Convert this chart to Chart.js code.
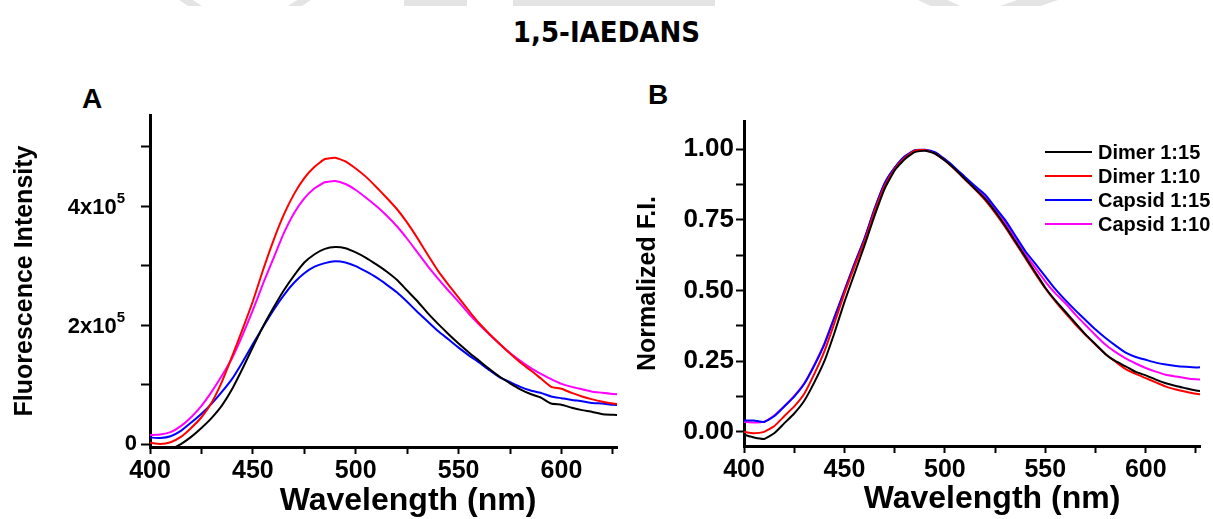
<!DOCTYPE html>
<html>
<head>
  <meta charset="UTF-8">
  <title>1,5-IAEDANS</title>
  <script src="https://cdn.jsdelivr.net/npm/chart.js@4.4.4/dist/chart.umd.min.js"></script>
  <style>
    body { margin: 0; background: #fff; }
    #wrap { position: relative; width: 1213px; height: 519px; overflow: hidden; }
    #wrap canvas { position: absolute; left: 0; top: 0; }

    /* faint grey strip along the top edge */
    .band { position: absolute; top: 0; height: 6px; background: #e4e4e4; }

    #title {
      position: absolute; left: 0; top: 15px; width: 1213px;
      text-align: center; line-height: 34px;
      font: bold 29px "DejaVu Sans Condensed", "Liberation Sans Narrow", sans-serif;
      font-stretch: condensed;
    }
    .panel {
      position: absolute; line-height: 28px;
      font: bold 28px "Liberation Sans", Arial, sans-serif;
    }
  </style>
</head>
<body>
<div id="wrap">
  <div class="band" style="left:179px;width:23px;clip-path:polygon(0 0,60% 0,100% 100%,40% 100%)"></div>
  <div class="band" style="left:288px;width:23px;clip-path:polygon(40% 0,100% 0,60% 100%,0 100%)"></div>
  <div class="band" style="left:404px;width:63px"></div>
  <div class="band" style="left:513px;width:202px"></div>
  <div class="band" style="left:918px;width:42px;clip-path:polygon(0 0,70% 0,100% 100%,30% 100%)"></div>
  <div class="band" style="left:1000px;width:58px;clip-path:polygon(30% 0,100% 0,70% 100%,0 100%)"></div>

  <div id="title">1,5-IAEDANS</div>
  <div class="panel" style="left:82px;top:83px">A</div>
  <div class="panel" style="left:648px;top:79px">B</div>

  <canvas id="chartA" width="1213" height="519"></canvas>
  <canvas id="chartB" width="1213" height="519"></canvas>
</div>

<script>
  // —— data ——————————————————————————————————————————————
  const wavelength = [
    400, 405, 410, 415, 420, 425, 430, 435, 440, 445,
    450, 455, 460, 465, 470, 475, 480, 485, 490, 495,
    500, 505, 510, 515, 520, 525, 530, 535, 540, 545,
    550, 555, 560, 565, 570, 575, 580, 585, 590, 595,
    600, 605, 610, 615, 620, 625, 630
  ];
  const seriesNames = ['Dimer 1:15', 'Dimer 1:10', 'Capsid 1:15', 'Capsid 1:10'];
  const seriesColors = ['#000000', '#ff0000', '#0000ff', '#ff00ff'];

  // panel A: raw intensity, in units of 10^5
  const expTicksA = [2, 4];
  const dimer15Raw = [
    -0.07, -0.09, -0.08, 0.00, 0.12, 0.27, 0.44, 0.65, 0.93, 1.27,
    1.63, 1.98, 2.29, 2.58, 2.83, 3.05, 3.19, 3.28, 3.31, 3.29,
    3.22, 3.13, 3.02, 2.90, 2.76, 2.58, 2.40, 2.20, 2.02, 1.85,
    1.69, 1.54, 1.40, 1.26, 1.13, 1.02, 0.92, 0.84, 0.78, 0.68,
    0.66, 0.61, 0.57, 0.54, 0.50, 0.49, 0.48
  ];
  const dimer10Raw = [
    0.02, 0.00, 0.03, 0.12, 0.27, 0.45, 0.70, 1.05, 1.48, 1.93,
    2.40, 2.93, 3.42, 3.85, 4.20, 4.47, 4.66, 4.79, 4.81, 4.75,
    4.63, 4.49, 4.32, 4.14, 3.95, 3.72, 3.46, 3.18, 2.91, 2.68,
    2.46, 2.24, 2.03, 1.85, 1.68, 1.52, 1.37, 1.24, 1.10, 0.96,
    0.93, 0.86, 0.80, 0.75, 0.71, 0.68, 0.66
  ];
  const capsid15Raw = [
    0.11, 0.10, 0.13, 0.22, 0.36, 0.51, 0.68, 0.88, 1.10, 1.38,
    1.68, 1.97, 2.25, 2.50, 2.71, 2.87, 2.98, 3.04, 3.07, 3.05,
    2.99, 2.90, 2.80, 2.68, 2.55, 2.39, 2.22, 2.06, 1.90, 1.76,
    1.62, 1.49, 1.37, 1.24, 1.12, 1.04, 0.96, 0.90, 0.86, 0.80,
    0.77, 0.74, 0.72, 0.69, 0.68, 0.66, 0.65
  ];
  const capsid10Raw = [
    0.15, 0.16, 0.20, 0.30, 0.45, 0.64, 0.88, 1.15, 1.45, 1.83,
    2.25, 2.70, 3.12, 3.54, 3.88, 4.13, 4.30, 4.40, 4.42, 4.37,
    4.27, 4.14, 4.00, 3.84, 3.66, 3.45, 3.22, 2.99, 2.78, 2.58,
    2.39, 2.19, 2.01, 1.84, 1.68, 1.53, 1.40, 1.28, 1.18, 1.09,
    1.01, 0.96, 0.92, 0.88, 0.86, 0.84, 0.83
  ];

  // panel B: normalized fluorescence
  const dimer15Norm = [
    -0.010, -0.020, -0.025, -0.005, 0.030, 0.065, 0.110, 0.175, 0.250, 0.350,
    0.460, 0.560, 0.660, 0.765, 0.860, 0.925, 0.965, 0.990, 0.995, 0.985,
    0.960, 0.930, 0.895, 0.860, 0.825, 0.780, 0.730, 0.675, 0.620, 0.565,
    0.510, 0.465, 0.425, 0.385, 0.345, 0.310, 0.275, 0.250, 0.232, 0.212,
    0.200, 0.185, 0.172, 0.162, 0.154, 0.146, 0.142
  ];
  const dimer10Norm = [
    0.000, -0.005, 0.000, 0.020, 0.055, 0.090, 0.135, 0.205, 0.285, 0.385,
    0.490, 0.585, 0.675, 0.780, 0.870, 0.930, 0.970, 0.995, 0.997, 0.985,
    0.960, 0.928, 0.893, 0.858, 0.820, 0.775, 0.725, 0.670, 0.615, 0.560,
    0.508, 0.462, 0.420, 0.380, 0.343, 0.308, 0.275, 0.248, 0.222, 0.205,
    0.190, 0.175, 0.160, 0.150, 0.142, 0.135, 0.130
  ];
  const capsid15Norm = [
    0.040, 0.040, 0.035, 0.055, 0.090, 0.125, 0.170, 0.235, 0.310, 0.405,
    0.500, 0.595, 0.685, 0.790, 0.880, 0.935, 0.975, 0.997, 0.998, 0.990,
    0.965, 0.935, 0.902, 0.870, 0.840, 0.795, 0.750, 0.695, 0.640, 0.595,
    0.550, 0.505, 0.466, 0.430, 0.396, 0.362, 0.332, 0.305, 0.280, 0.265,
    0.255, 0.245, 0.238, 0.233, 0.230, 0.228, 0.230
  ];
  const capsid10Norm = [
    0.035, 0.033, 0.036, 0.058, 0.090, 0.127, 0.172, 0.237, 0.312, 0.405,
    0.500, 0.593, 0.683, 0.787, 0.878, 0.933, 0.973, 0.995, 0.997, 0.988,
    0.962, 0.932, 0.898, 0.865, 0.833, 0.790, 0.742, 0.685, 0.630, 0.580,
    0.532, 0.490, 0.455, 0.415, 0.378, 0.342, 0.308, 0.282, 0.260, 0.242,
    0.226, 0.213, 0.202, 0.196, 0.190, 0.186, 0.184
  ];

  // —— helpers ——————————————————————————————————————————
  const FONT = '"Liberation Sans", Arial, sans-serif';

  function makeDatasets(seriesList) {
    return seriesList.map((vals, i) => ({
      label: seriesNames[i],
      data: wavelength.map((w, j) => ({ x: w, y: vals[j] })),
      borderColor: seriesColors[i],
      borderWidth: 2,
      pointRadius: 0,
      tension: 0.15,
      fill: false
    }));
  }

  function axisGrid(len) {
    return {
      display: true,
      drawOnChartArea: false,
      drawTicks: true,
      tickLength: len,
      tickWidth: 2,
      tickColor: '#000'
    };
  }

  function xScale(height) {
    return {
      type: 'linear',
      position: 'bottom',
      min: 400,
      max: 627,
      grid: axisGrid(7),
      border: { display: true, width: 3, color: '#000' },
      ticks: {
        stepSize: 25,
        includeBounds: false,
        autoSkip: false,
        maxRotation: 0,
        padding: 2,
        color: '#000',
        font: { family: FONT, size: 25, weight: 'bold' },
        callback: v => (v % 50 === 0 ? String(v) : '')
      },
      afterFit: s => { s.height = height; }
    };
  }

  // x-axis title, "n x10^5" tick labels and optional in-plot legend
  const panelText = {
    id: 'panelText',
    afterDraw(chart, args, opts) {
      const ctx = chart.ctx;
      ctx.save();
      ctx.fillStyle = '#000';
      ctx.textAlign = 'center';
      ctx.textBaseline = 'middle';
      ctx.font = 'bold 32px ' + FONT;
      ctx.fillText(opts.xTitle, opts.titleX, opts.titleY);

      if (opts.expTicks) {
        const yScale = chart.scales.y;
        const right = yScale.right - 25;
        ctx.textAlign = 'right';
        ctx.textBaseline = 'alphabetic';
        opts.expTicks.forEach(v => {
          const y = yScale.getPixelForValue(v);
          ctx.font = 'bold 15px ' + FONT;
          const w = ctx.measureText('5').width;
          ctx.fillText('5', right, y - 3);
          ctx.font = 'bold 22px ' + FONT;
          ctx.fillText(v + 'x10', right - w, y + 8);
        });
      }

      if (opts.legend) {
        ctx.textAlign = 'left';
        ctx.textBaseline = 'middle';
        ctx.font = 'bold 20px ' + FONT;
        chart.data.datasets.forEach((ds, i) => {
          const y = opts.legend.y + i * opts.legend.gap;
          ctx.strokeStyle = ds.borderColor;
          ctx.lineWidth = 2;
          ctx.beginPath();
          ctx.moveTo(opts.legend.x, y);
          ctx.lineTo(opts.legend.x + 47, y);
          ctx.stroke();
          ctx.fillText(ds.label, opts.legend.x + 53, y + 1);
        });
      }
      ctx.restore();
    }
  };

  Chart.defaults.color = '#000';

  // —— A: fluorescence intensity ————————————————————————
  new Chart(document.getElementById('chartA'), {
    type: 'line',
    data: { datasets: makeDatasets([dimer15Raw, dimer10Raw, capsid15Raw, capsid10Raw]) },
    options: {
      responsive: false,
      animation: false,
      events: [],
      layout: { padding: { left: 0, right: 596, top: 115, bottom: 0 } },
      plugins: {
        legend: { display: false },
        tooltip: { enabled: false },
        panelText: { xTitle: 'Wavelength (nm)', titleX: 408, titleY: 501, expTicks: expTicksA }
      },
      scales: {
        x: xScale(72),
        y: {
          type: 'linear',
          min: -0.05,
          max: 5.53,
          grid: axisGrid(9),
          border: { display: true, width: 3, color: '#000' },
          ticks: {
            stepSize: 1,
            includeBounds: false,
            padding: 4,
            color: '#000',
            font: { family: FONT, size: 22, weight: 'bold' },
            // the 10^5 labels are drawn by panelText with a raised exponent
            callback: v => (v === 0 ? '0' : '')
          },
          title: {
            display: true,
            text: 'Fluorescence Intensity',
            color: '#000',
            font: { family: FONT, size: 25, weight: 'bold' },
            padding: { top: 10, bottom: 0 }
          },
          afterFit: s => { s.width = 150; }
        }
      }
    },
    plugins: [panelText]
  });

  // —— B: normalized F.I. ————————————————————————————————
  new Chart(document.getElementById('chartB'), {
    type: 'line',
    data: { datasets: makeDatasets([dimer15Norm, dimer10Norm, capsid15Norm, capsid10Norm]) },
    options: {
      responsive: false,
      animation: false,
      events: [],
      layout: { padding: { left: 620, right: 13, top: 121, bottom: 0 } },
      plugins: {
        legend: { display: false },
        tooltip: { enabled: false },
        panelText: {
          xTitle: 'Wavelength (nm)', titleX: 992, titleY: 499,
          legend: { x: 1045, y: 152, gap: 24 }
        }
      },
      scales: {
        x: xScale(73),
        y: {
          type: 'linear',
          min: -0.05,
          max: 1.1,
          grid: axisGrid(8),
          border: { display: true, width: 3, color: '#000' },
          ticks: {
            stepSize: 0.125,
            includeBounds: false,
            padding: 2,
            color: '#000',
            font: { family: FONT, size: 26, weight: 'bold' },
            callback: v => (Math.round(v * 1000) % 250 === 0 ? Math.abs(v).toFixed(2) : '')
          },
          title: {
            display: true,
            text: 'Normalized F.I.',
            color: '#000',
            font: { family: FONT, size: 25, weight: 'bold' },
            padding: { top: 13, bottom: 0 }
          },
          afterFit: s => { s.width = 124; }
        }
      }
    },
    plugins: [panelText]
  });
</script>
</body>
</html>
